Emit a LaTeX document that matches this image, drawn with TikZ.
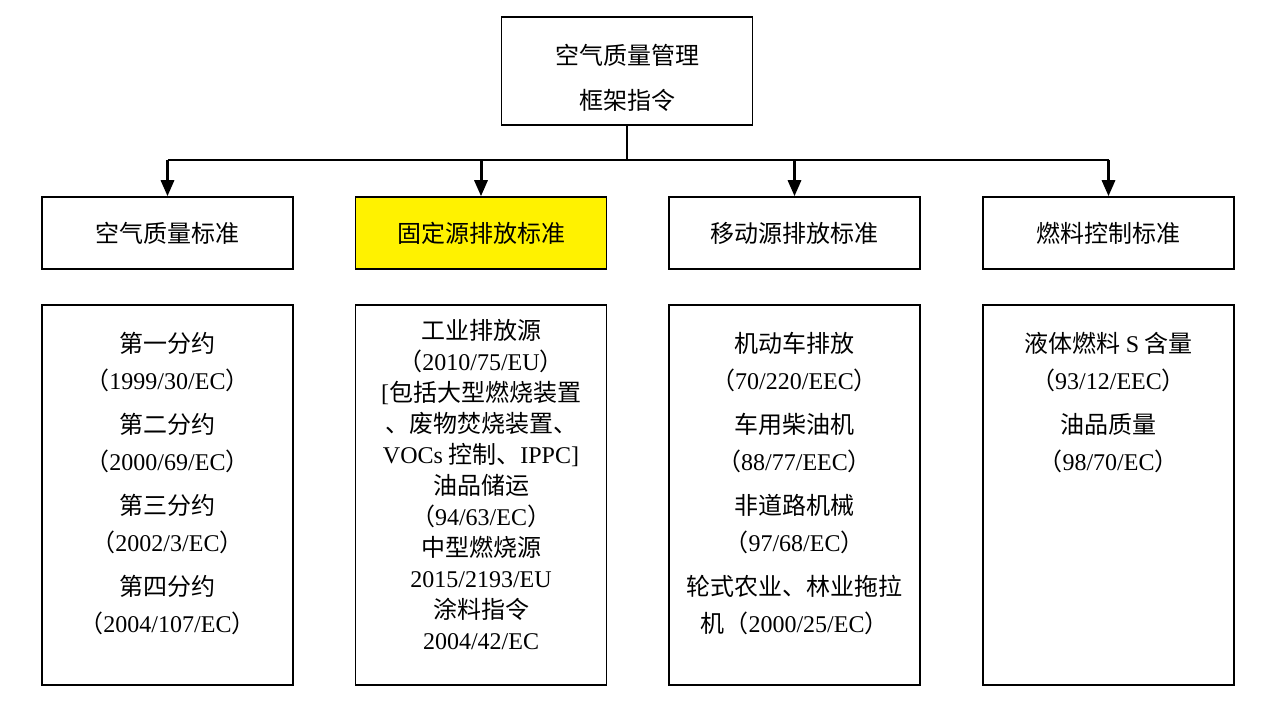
\documentclass[tikz,border=0pt]{standalone}
\usepackage{fontspec}
\setmainfont{Noto Sans CJK SC}
\newfontfamily\latinfont{Liberation Serif}
\newcommand{\en}[1]{{\latinfont #1}}
\usepackage{xcolor}
\usetikzlibrary{arrows.meta, positioning}

\begin{document}
\begin{tikzpicture}[
    x=0.5pt, y=-0.5pt,
    font=\fontsize{12}{14}\selectfont,
    box/.style={rectangle, draw, line width=0.75pt, minimum width=125.5pt, align=center, inner sep=0pt},
    head/.style={box, minimum height=36pt},
    list/.style={box, minimum height=190pt},
    info/.style={anchor=north, align=center, inner sep=0pt},
    link/.style={line width=0.75pt},
    arr/.style={-{Triangle[length=8pt, width=6.5pt]}, line width=1.5pt}
]
\useasboundingbox (0,0) rectangle (1274,704);

% Framework directive
\node[box, minimum height=54pt] (root) at (627,71) {};
\node[align=center, inner sep=0pt, font=\fontsize{12}{22.5}\selectfont, yshift=-3.5pt] (title) at (root.center) {空气质量管理\\框架指令};

% Standards
\node[head] (s1) at (167.5,233) {空气质量标准};
\node[head, fill=yellow] (s2) at (481,233) {固定源排放标准};
\node[head] (s3) at (794.5,233) {移动源排放标准};
\node[head] (s4) at (1108.5,233) {燃料控制标准};

% Detail boxes
\node[list] (d1) at (167.5,495) {};
\node[list] (d2) at (481,495) {};
\node[list] (d3) at (794.5,495) {};
\node[list] (d4) at (1108.5,495) {};

% Detail texts
\node[info, font=\fontsize{12}{18.5}\selectfont, yshift=-14pt] (t1) at (d1.north) {第一分约\\（\en{1999/30/EC}）\\[3.5pt]第二分约\\（\en{2000/69/EC}）\\[3.5pt]第三分约\\（\en{2002/3/EC}）\\[3.5pt]第四分约\\（\en{2004/107/EC}）};
\node[info, font=\fontsize{12}{15.5}\selectfont, yshift=-7.5pt] (t2) at (d2.north) {工业排放源\\（\en{2010/75/EU}）\\\en{[}包括大型燃烧装置\\、废物焚烧装置、\\\en{VOCs} 控制、\en{IPPC]}\\油品储运\\（\en{94/63/EC}）\\中型燃烧源\\\en{2015/2193/EU}\\涂料指令\\\en{2004/42/EC}};
\node[info, font=\fontsize{12}{18.5}\selectfont, yshift=-14pt] (t3) at (d3.north) {机动车排放\\（\en{70/220/EEC}）\\[3.5pt]车用柴油机\\（\en{88/77/EEC}）\\[3.5pt]非道路机械\\（\en{97/68/EC}）\\[3.5pt]轮式农业、林业拖拉\\机（\en{2000/25/EC}）};
\node[info, font=\fontsize{12}{18.5}\selectfont, yshift=-14pt] (t4) at (d4.north) {液体燃料 \en{S} 含量\\（\en{93/12/EEC}）\\[3.5pt]油品质量\\（\en{98/70/EC}）};

% Connectors
\coordinate (hub) at (627,160);
\draw[link] (root) -- (hub);
\draw[link] (s1.north |- hub) -- (s4.north |- hub);
\foreach \i in {1,...,4} {
    \draw[arr] (s\i.north |- hub) -- (s\i.north);
}

\end{tikzpicture}
\end{document}
